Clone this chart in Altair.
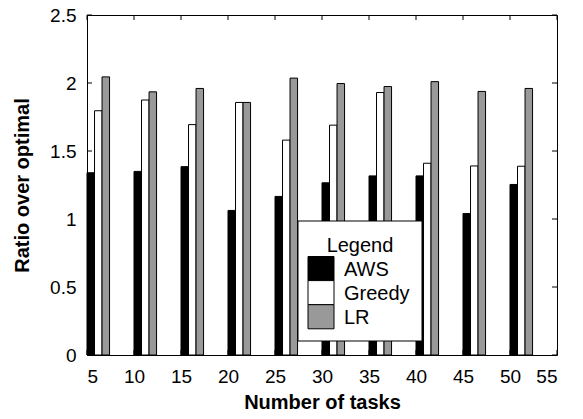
import altair as alt
import pandas as pd

tasks = [5, 10, 15, 20, 25, 30, 35, 40, 45, 50]
aws = [1.34, 1.35, 1.385, 1.063, 1.166, 1.266, 1.317, 1.317, 1.04, 1.254]
greedy = [1.796, 1.875, 1.694, 1.857, 1.58, 1.69, 1.93, 1.41, 1.39, 1.388]
lr = [2.045, 1.935, 1.96, 1.857, 2.036, 1.996, 1.974, 2.01, 1.938, 1.96]
algos = ["AWS", "Greedy", "LR"]
colors = ["black", "white", "#999999"]
x_ticks = [5, 10, 15, 20, 25, 30, 35, 40, 45, 50, 55]
y_ticks = [0, 0.5, 1, 1.5, 2, 2.5]

rows = []
for name, vals in zip(algos, [aws, greedy, lr]):
    for t, v in zip(tasks, vals):
        rows.append({"tasks": t, "algo": name, "value": v})
df = pd.DataFrame(rows)

W, H = 470, 340
BW = 0.8
FONT = "Liberation Sans"

xscale = alt.Scale(domain=[5, 55], nice=False, zero=False)
yscale = alt.Scale(domain=[0, 2.5], nice=False)
xaxis = alt.Axis(values=x_ticks, format="~g", labelPadding=12, titlePadding=6)
yaxis = alt.Axis(values=y_ticks, format="~g", labelPadding=11, titlePadding=17)

bars = alt.Chart(df).transform_calculate(
    x0=f"datum.tasks + indexof({algos}, datum.algo) * {BW}",
    x1=f"datum.tasks + (indexof({algos}, datum.algo) + 1) * {BW}",
).mark_bar(stroke="black", strokeWidth=1).encode(
    x=alt.X("x0:Q", scale=xscale, axis=xaxis, title="Number of tasks"),
    x2="x1:Q",
    y=alt.Y("value:Q", scale=yscale, axis=yaxis, title="Ratio over optimal"),
    y2=alt.datum(0),
    color=alt.Color("algo:N", scale=alt.Scale(domain=algos, range=colors), legend=None),
)

xt = pd.DataFrame({"x0": x_ticks})
yt = pd.DataFrame({"value": y_ticks})
xenc = alt.X("x0:Q", scale=xscale, axis=xaxis, title="Number of tasks")
yenc = alt.Y("value:Q", scale=yscale, axis=yaxis, title="Ratio over optimal")

tick_bottom = alt.Chart(xt).mark_rule(color="black").encode(x=xenc, y=alt.value(H), y2=alt.value(H - 5))
tick_top = alt.Chart(xt).mark_rule(color="black").encode(x=xenc, y=alt.value(0), y2=alt.value(5))
tick_left = alt.Chart(yt).mark_rule(color="black").encode(y=yenc, x=alt.value(0), x2=alt.value(5))
tick_right = alt.Chart(yt).mark_rule(color="black").encode(y=yenc, x=alt.value(W), x2=alt.value(W - 5))

# manual legend box (pixel positions inside the plot area)
one = pd.DataFrame({"k": [0]})
LX0, LX1, LY0, LY1 = 211, 335, 206, 326
legend_layers = [
    alt.Chart(one).mark_rect(fill="white", stroke="black", strokeWidth=1).encode(
        x=alt.value(LX0), x2=alt.value(LX1), y=alt.value(LY0), y2=alt.value(LY1)
    ),
    alt.Chart(one).mark_text(
        text="Legend", font=FONT, fontSize=20, color="black", align="center", baseline="alphabetic"
    ).encode(x=alt.value(273), y=alt.value(237)),
]
SW_X0, SW_X1, SW_Y0, SW_H = 221, 247, 241.5, 24.1
for i, (name, col) in enumerate(zip(algos, colors)):
    y0 = SW_Y0 + i * SW_H
    legend_layers.append(
        alt.Chart(one).mark_rect(fill=col, stroke="black", strokeWidth=1).encode(
            x=alt.value(SW_X0), x2=alt.value(SW_X1), y=alt.value(y0), y2=alt.value(y0 + SW_H)
        )
    )
    legend_layers.append(
        alt.Chart(one).mark_text(
            text=name, font=FONT, fontSize=20, color="black", align="left", baseline="middle"
        ).encode(x=alt.value(257), y=alt.value(y0 + SW_H / 2 + 1))
    )

chart = alt.layer(tick_bottom, tick_top, tick_left, tick_right, bars, *legend_layers).properties(
    width=W,
    height=H,
    autosize=alt.AutoSizeParams(type="none"),
    padding={"left": 79, "top": 7, "right": 18, "bottom": 56},
).configure_view(
    stroke="black", strokeWidth=1
).configure_axis(
    labelFont=FONT,
    labelFontSize=19,
    labelColor="black",
    titleFont=FONT,
    titleFontSize=20,
    titleFontWeight="bold",
    titleColor="black",
    tickSize=0,
    domain=False,
    grid=False,
)

chart.save("out.html", embed_options={"renderer": "svg", "actions": False})
